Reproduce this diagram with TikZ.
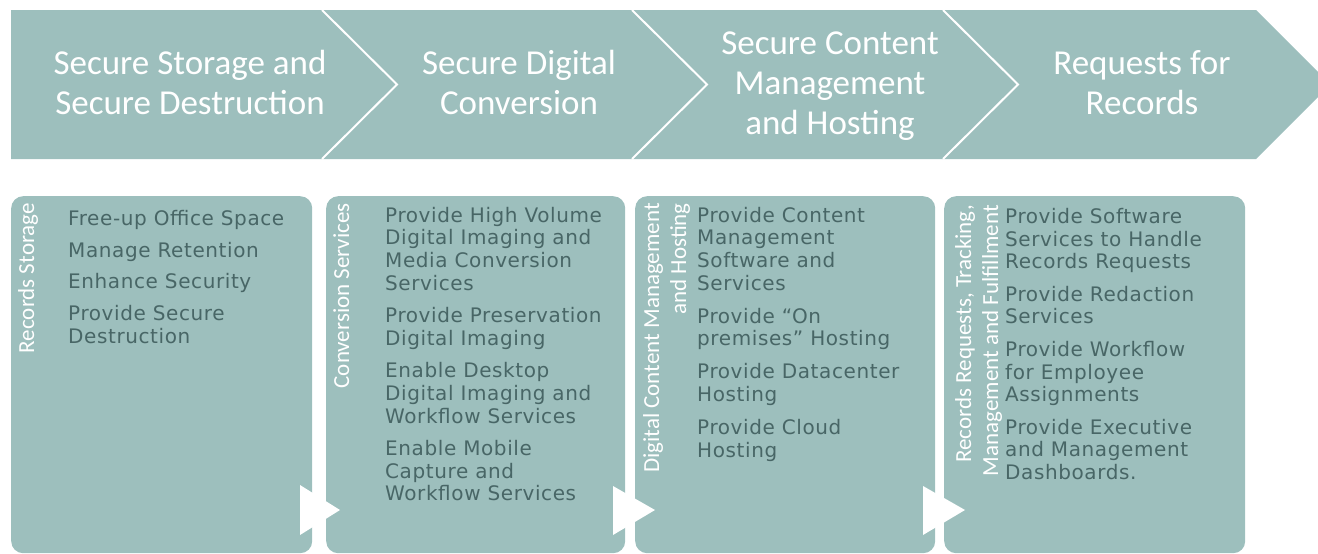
\documentclass[tikz,border=0pt]{standalone}
\usepackage{fontspec}
\setmainfont{Carlito}
\newfontfamily\bodyfont[LetterSpace=3]{DejaVu Sans}
\definecolor{tealfill}{RGB}{157,191,189}
\definecolor{bodytxt}{RGB}{72,102,102}
\begin{document}
\begin{tikzpicture}[x=1pt,y=-1pt,
  box/.style={fill=tealfill, rounded corners=12pt, minimum height=357pt, anchor=north west, inner sep=0pt},
  head/.style={text=white, align=center, inner sep=0pt, font=\fontsize{35}{40}\selectfont},
  lab/.style={text=white, rotate=90, align=right, inner sep=0pt, anchor=north east, font=\fontsize{23}{27}\selectfont},
  body/.style={text=bodytxt, align=left, inner sep=0pt, anchor=north west, font=\bodyfont\fontsize{20}{22.6}\selectfont},
  sep/.style={draw=white, line width=2pt},
  tri/.style={fill=white}]
\useasboundingbox (0,0) rectangle (1318,554);
\clip (0,0) rectangle (1318,554);
% top chevron band
\fill[tealfill] (11,10) -- (1256,10) -- (1330.5,84.5) -- (1256,159) -- (11,159) -- cycle;
\foreach \x in {322,632,943} \draw[sep] (\x,10) -- (\x+75,84.5) -- (\x,159);
\node[head] (h1) at (190,82.5) {Secure Storage and\\Secure Destruction};
\node[head] (h2) at (519,82.5) {Secure Digital\\Conversion};
\node[head] (h3) at (830,86.5) {Secure Content\\Management\\and Hosting};
\node[head] (h4) at (1142,82.5) {Requests for\\Records};
% boxes
\node[box, minimum width=301pt] (b1) at (11,196) {};
\node[box, minimum width=299pt] (b2) at (326,196) {};
\node[box, minimum width=300pt] (b3) at (635,196) {};
\node[box, minimum width=301pt] (b4) at (944,196) {};
% triangles
\fill[tri] (300,485) -- (340,510) -- (300,535) -- cycle;
\fill[tri] (613,486) -- (655,510) -- (613,535) -- cycle;
\fill[tri] (923,486) -- (965,510) -- (923,535) -- cycle;
% vertical labels
\node[lab] (l1) at (18,203) {Records Storage};
\node[lab] (l2) at (333,203) {Conversion Services};
\node[lab] (l3) at (643,203) {Digital Content Management\\and Hosting};
\node[lab] (l4) at (955,205) {Records Requests, Tracking,\\Management and Fulfillment};
% body text
\node[body] (t1) at (68,209.8) {Free-up Office Space\\[9.5pt]Manage Retention\\[9pt]Enhance Security\\[9.5pt]Provide Secure\\Destruction};
\node[body] (t2) at (385,206.8) {Provide High Volume\\Digital Imaging and\\Media Conversion\\Services\\[10pt]Provide Preservation\\Digital Imaging\\[10pt]Enable Desktop\\Digital Imaging and\\Workflow Services\\[10pt]Enable Mobile\\Capture and\\Workflow Services};
\node[body] (t3) at (697,206.8) {Provide Content\\Management\\Software and\\Services\\[10.5pt]Provide “On\\premises” Hosting\\[10.5pt]Provide Datacenter\\Hosting\\[10.5pt]Provide Cloud\\Hosting};
\node[body] (t4) at (1005,208) {Provide Software\\Services to Handle\\Records Requests\\[10pt]Provide Redaction\\Services\\[10pt]Provide Workflow\\for Employee\\Assignments\\[10pt]Provide Executive\\and Management\\Dashboards.};
\end{tikzpicture}
\end{document}
